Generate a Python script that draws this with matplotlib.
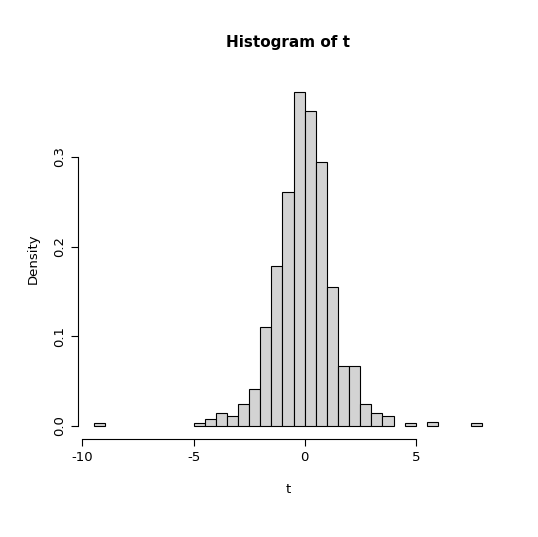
import matplotlib
matplotlib.use("Agg")
import matplotlib.pyplot as plt
import numpy as np

left_edges = [-9.5, -5, -4.5, -4, -3.5, -3, -2.5, -2, -1.5, -1, -0.5, 0, 0.5, 1, 1.5, 2, 2.5, 3, 3.5, 4.5, 5.5, 7.5]
density = [0.003, 0.003, 0.007, 0.014, 0.011, 0.024, 0.041, 0.110, 0.178, 0.261, 0.372, 0.351, 0.294, 0.155, 0.067, 0.067, 0.024, 0.014, 0.011, 0.003, 0.004, 0.003]
xticks = [-10, -5, 0, 5]
yticks = [0.0, 0.1, 0.2, 0.3]

fig = plt.figure(figsize=(5.38, 5.37), dpi=100)
ax = fig.add_axes([78/538, 98/537, 420/538, 360/537])
ax.bar(left_edges, density, width=0.5, align='edge', color='#d3d3d3', edgecolor='black', linewidth=0.8)
ax.set_xlim(-10.2, 8.7)
ax.set_ylim(-0.0149, 0.387)
for s in ['top', 'right']:
    ax.spines[s].set_visible(False)
ax.spines['left'].set_bounds(0, 0.3)
ax.spines['bottom'].set_bounds(-10, 5)
ax.set_xticks(xticks)
ax.set_xticklabels([str(v) for v in xticks])
ax.set_yticks(yticks)
ax.set_yticklabels(['0.0', '0.1', '0.2', '0.3'], rotation=90, va='center')
ax.tick_params(labelsize=9.5, length=5)
ax.set_xlabel('t', fontsize=9.5, labelpad=14)
ax.set_ylabel('Density', fontsize=9.5, labelpad=10)
fig.text(288/538, 1 - 42/537, 'Histogram of t', ha='center', va='center', fontsize=11, fontweight='bold')
fig.savefig('out.png', dpi=100)
